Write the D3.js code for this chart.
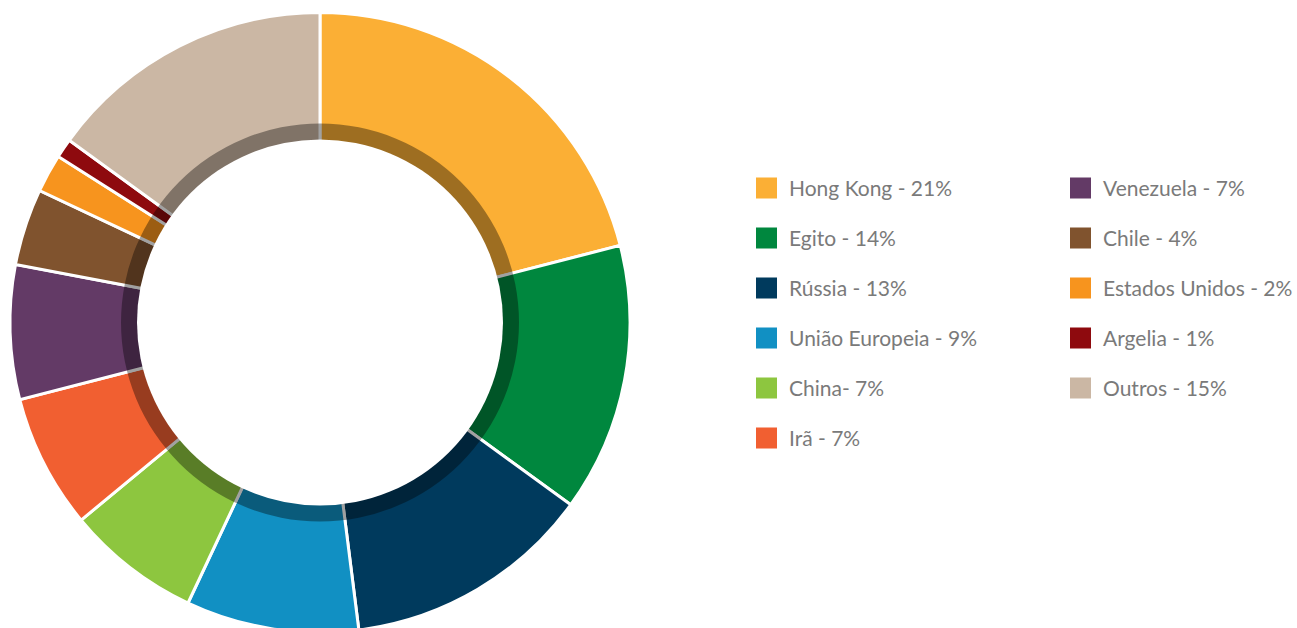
<html>
<head>
	<meta charset="UTF-8">
	<title>Donut</title>
	<script src="https://cdn.jsdelivr.net/npm/d3@7"></script>
	<style>
		body {
			padding: 0;
			margin: 0;
			background: #fff;
		}
	</style>
</head>
<body>
	<script>
		var w = 1297,
			h = 628;

		// data
		var labels = ["Hong Kong - 21%", "Egito - 14%", "Rússia - 13%", "União Europeia - 9%", "China- 7%", "Irã - 7%",
			"Venezuela - 7%", "Chile - 4%", "Estados Unidos - 2%", "Argelia - 1%", "Outros - 15%"];
		var values = [21, 14, 13, 9, 7, 7, 7, 4, 2, 1, 15];
		var colors = ["#fbaf35", "#00873e", "#003a5d", "#1190c3", "#8dc63f", "#f15f31",
			"#633a66", "#80532e", "#f7941e", "#8e0a0e", "#cbb7a4"];

		var cx = 320,
			cy = 322.5,
			rOuter = 310,
			rInner = 183,
			rShade = 199;

		var svg = d3.select("body").append("svg")
			.attr("width", w)
			.attr("height", h);

		var pie = d3.pie().sort(null).value(function (d) { return d; });
		var arc = d3.arc().innerRadius(rInner - 6).outerRadius(rOuter);

		var g = svg.append("g").attr("transform", "translate(" + cx + "," + cy + ")");

		g.selectAll("path.slice")
			.data(pie(values))
			.enter().append("path")
			.attr("class", "slice")
			.attr("d", arc)
			.style("fill", function (d, i) { return colors[i]; })
			.style("stroke", "#fff")
			.style("stroke-width", 3)
			.style("stroke-linejoin", "miter");

		// darker inner band
		g.append("path")
			.attr("d", d3.arc().innerRadius(rInner - 6).outerRadius(rShade).startAngle(0).endAngle(2 * Math.PI))
			.style("fill", "#000")
			.style("fill-opacity", 0.37);

		// white hole covers the extra bit
		g.append("circle")
			.attr("r", rInner)
			.style("fill", "#fff");

		// legend, two columns
		var col = d3.scaleOrdinal().domain([0, 1]).range([756, 1070]);
		var row = d3.scaleLinear().domain([0, 1]).range([188, 238]);

		var items = svg.selectAll("g.item")
			.data(labels)
			.enter().append("g")
			.attr("class", "item")
			.attr("transform", function (d, i) {
				var c = i < 6 ? 0 : 1;
				var r = i < 6 ? i : i - 6;
				return "translate(" + col(c) + "," + row(r) + ")";
			});

		items.append("rect")
			.attr("x", 0)
			.attr("y", -10.5)
			.attr("width", 21)
			.attr("height", 21)
			.style("fill", function (d, i) { return colors[i]; });

		items.append("text")
			.attr("x", 33)
			.attr("y", 0)
			.attr("dy", "0.36em")
			.style("font-family", "Lato, sans-serif")
			.style("font-size", "21px")
			.style("fill", "#7a7a7a")
			.text(function (d) { return d; });
	</script>
</body>
</html>
